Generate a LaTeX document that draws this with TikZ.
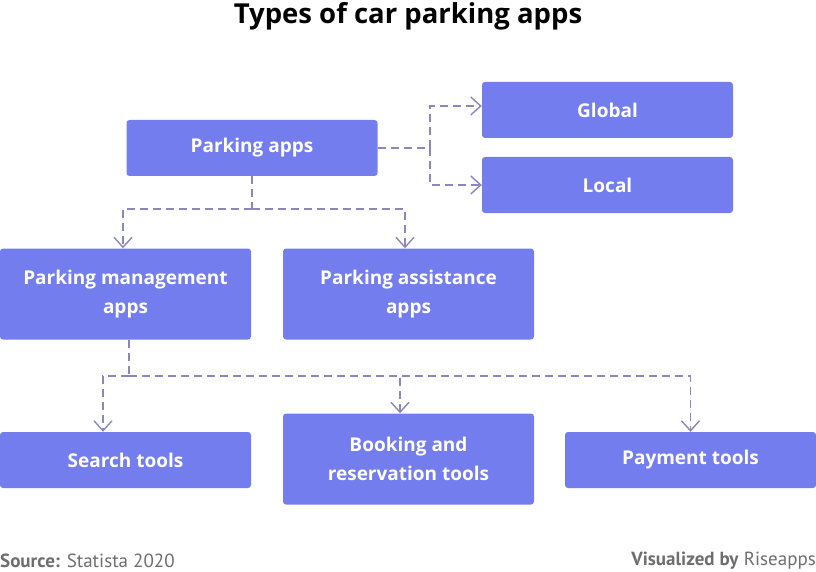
\documentclass[tikz,border=0pt]{standalone}
\usepackage{fontspec}
\setmainfont{Open Sans}
\newfontfamily\footfont{PT Sans}
\usetikzlibrary{arrows.meta}
\definecolor{boxblue}{HTML}{737DEE}
\definecolor{dashgray}{HTML}{8A86C0}
\definecolor{footgray}{HTML}{6E6E6E}
\tikzstyle{block} = [rectangle, fill=boxblue, text=white, align=center,
	minimum width=251pt, minimum height=56pt, rounded corners=3pt, inner sep=0pt,
	font=\fontsize{19}{29}\selectfont\bfseries]
\tikzstyle{tall} = [block, minimum height=91pt]
\tikzstyle{line} = [draw=dashgray, line width=1.4pt, dash pattern=on 8pt off 5pt,
	-{Straight Barb[length=10pt,width=18pt,line width=1.4pt]}]
\tikzstyle{plain} = [draw=dashgray, line width=1.4pt, dash pattern=on 8pt off 5pt]

\begin{document}
\begin{tikzpicture}[x=1pt, y=-1pt]
	\useasboundingbox (0,0) rectangle (816,572);
	% Title and footer
	\node [font=\fontsize{27.5}{30}\selectfont\bfseries] (title) at (408,16) {Types of car parking apps};
	\node [anchor=west, text=footgray, font=\footfont\fontsize{19}{22}\selectfont, inner sep=0pt] (source) at (0,561) {\textbf{Source:} Statista 2020};
	\node [anchor=east, text=footgray, font=\footfont\fontsize{19}{22}\selectfont, inner sep=0pt] (credit) at (816,561) {\textbf{Visualized by} Riseapps};
	% Place nodes
	\node [block] (papps) at (252,148) {Parking apps};
	\node [block] (global) at (607.5,110) {Global};
	\node [block] (local) at (607.5,185) {Local};
	\node [tall] (manage) at (125.5,294) {Parking management\\apps};
	\node [tall] (assist) at (408.5,294) {Parking assistance\\apps};
	\node [block] (search) at (125.5,460) {Search tools};
	\node [tall] (booking) at (408.5,459) {Booking and\\reservation tools};
	\node [block] (payment) at (690.5,460) {Payment tools};
	% Forks
	\coordinate (forka) at (430,148);
	\coordinate (forkb) at (252,209);
	\coordinate (forkc) at (129,376);
	% Draw edges
	\path [line] (papps.east) -- (forka) |- ([yshift=4pt]global.west);
	\path [line] (forka) |- (local.west);
	\path [plain] (papps.south) -- (forkb);
	\path [line] (forkb) -| ([xshift=-2.5pt]manage.north);
	\path [line] (forkb) -| ([xshift=-3.5pt]assist.north);
	\path [plain] ([xshift=3.5pt]manage.south) -- (forkc);
	\path [line] (forkc) -| ([xshift=-22.5pt]search.north);
	\path [line] (forkc) -| ([xshift=-8.5pt]booking.north);
	\path [line] (forkc) -| (payment.north);
\end{tikzpicture}
\end{document}
